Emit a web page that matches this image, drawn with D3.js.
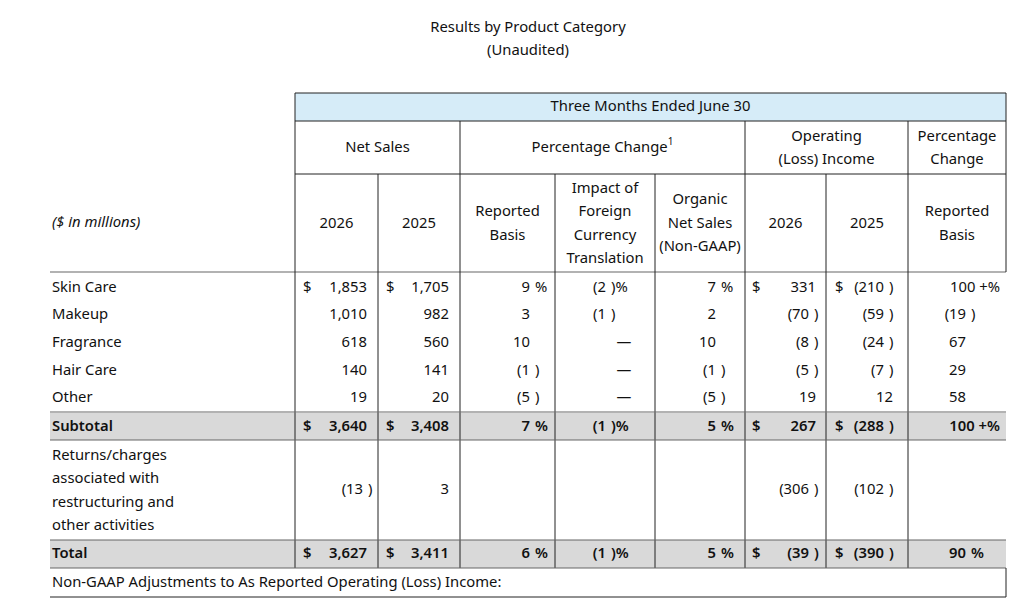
<!DOCTYPE html>
<html><head><meta charset="utf-8">
<script src="https://cdn.jsdelivr.net/npm/d3@7"></script>
<style>body{margin:0;background:#fff}text{font-family:"Noto Sans","Open Sans",sans-serif;font-size:14.8px;fill:#111}</style>
</head><body><svg id="c" width="1020" height="598"></svg>
<script>
const rowLabels = ["Skin Care", "Makeup", "Fragrance", "Hair Care", "Other"];
const netSales2026 = [1853, 1010, 618, 140, 19];
const netSales2025 = [1705, 982, 560, 141, 20];
const reportedPct = [9, 3, 10, -1, -5];
const fxImpact = [-2, -1, null, null, null];
const organicPct = [7, 2, 10, -1, -5];
const opIncome2026 = [331, -70, -8, -5, 19];
const opIncome2025 = [-210, -59, -24, -7, 12];
const opChange = ["100+", -19, 67, 29, 58];
const subtotal = [3640, 3408, 7, -1, 5, 267, -288, "100+"];
const returnsRow = [-13, 3, null, null, null, -306, -102, null];
const total = [3627, 3411, 6, -1, 5, -39, -390, 90];

const svg = d3.select("#c");
const fmt = d3.format(",");
const L = 50, R = 1006;
const colX = [295, 378, 460, 555, 655, 745, 826, 908, 1006];
// numeric columns: right edge of positive numbers, dollar sign, percent flag
const cols = [
  {E: 367, dollar: 303, pct: false, neg: -4},
  {E: 449, dollar: 386, pct: false, neg: -4},
  {E: 530, pct: true, neg: 0},
  {E: 606, pct: true, neg: 0, dash: 624},
  {E: 716, pct: true, neg: 0},
  {E: 816, dollar: 752, pct: false, neg: -7},
  {E: 893, dollar: 835, pct: false, neg: -9},
  {E: 966, pct: false, neg: 0}
];

const y = d3.scaleOrdinal()
  .domain(["Skin Care", "Makeup", "Fragrance", "Hair Care", "Other", "Subtotal", "Returns", "Total"])
  .range([288, 315, 343, 371, 398, 427, 490, 554]);

svg.append("rect").attr("x", colX[0]).attr("y", 93).attr("width", R - colX[0]).attr("height", 28).attr("fill", "#d6ecf8");
[[413, 440], [540, 568]].forEach(([a, b]) =>
  svg.append("rect").attr("x", L).attr("y", a).attr("width", R - L).attr("height", b - a).attr("fill", "#d9d9d9"));

const line = (x1, y1, x2, y2, w = 1, c = "#222") =>
  svg.append("line").attr("x1", x1).attr("y1", y1).attr("x2", x2).attr("y2", y2).attr("stroke", c).attr("stroke-width", w);

line(colX[0], 93, R, 93); line(colX[0], 121, R, 121); line(colX[0], 174, R, 174);
line(L, 272, R, 272, 1.2, "#666");
[colX[0], colX[2], colX[5], colX[7], R].forEach(x => line(x, 121, x, 174));
line(colX[0], 93, colX[0], 121); line(R, 93, R, 121);
colX.forEach(x => line(x, 174, x, 272));
colX.slice(0, 8).forEach(x => line(x, 272, x, 568));
line(L, 412, R, 412, 1.2, "#666"); line(L, 440, R, 440, 1.2, "#666");
line(L, 540, R, 540, 1.2, "#666"); line(L, 568, R, 568, 1.2, "#666");
line(L, 597, R, 597); line(R, 568, R, 597);

const txt = (x, yy, s, anchor = "middle", extra) => {
  const t = svg.append("text").attr("x", x).attr("y", yy).attr("text-anchor", anchor).attr("dominant-baseline", "middle").text(s);
  if (extra) extra(t);
  return t;
};

txt(528, 28, "Results by Product Category");
txt(528, 51, "(Unaudited)");

txt((colX[0] + R) / 2, 107, "Three Months Ended June 30");
txt((colX[0] + colX[2]) / 2, 148, "Net Sales");
txt((colX[2] + colX[5]) / 2, 148, "Percentage Change", "middle", t =>
  t.append("tspan").attr("dy", -6).attr("font-size", "10px").text("1"));
txt((colX[5] + colX[7]) / 2, 137, "Operating"); txt((colX[5] + colX[7]) / 2, 160, "(Loss) Income");
txt((colX[7] + R) / 2, 137, "Percentage"); txt((colX[7] + R) / 2, 160, "Change");
const sub = [["2026"], ["2025"], ["Reported", "Basis"], ["Impact of", "Foreign", "Currency", "Translation"],
  ["Organic", "Net Sales", "(Non-GAAP)"], ["2026"], ["2025"], ["Reported", "Basis"]];
sub.forEach((lines, i) => {
  const cx = (colX[i] + colX[i + 1]) / 2;
  lines.forEach((s, k) => txt(cx, 224 + (k - (lines.length - 1) / 2) * 23.5, s));
});
txt(52, 223, "($ in millions)", "start", t => t.attr("font-style", "italic"));

function cell(ci, v, yy, bold, showDollar, showPct = true) {
  const c = cols[ci];
  const b = t => { if (bold) t.attr("font-weight", 600); };
  if (v === null || v === undefined) {
    if (c.dash) txt(c.dash, yy, "—", "middle", b);
    return;
  }
  if (showDollar && c.dollar) txt(c.dollar, yy, "$", "start", b);
  if (v === "100+") { txt(1000, yy, "100 +%", "end", b); return; }
  const pct = c.pct && showPct;
  if (v < 0) {
    txt(c.E + c.neg, yy, "(" + fmt(-v), "end", b);
    txt(c.E + c.neg + 5, yy, ")" + (pct ? "%" : ""), "start", b);
  } else {
    txt(c.E, yy, fmt(v), "end", b);
    if (pct) txt(c.E + 5, yy, "%", "start", b);
  }
}
rowLabels.forEach((name, r) => {
  const yy = y(name);
  txt(52, yy, name, "start");
  const vals = [netSales2026[r], netSales2025[r], reportedPct[r], fxImpact[r], organicPct[r], opIncome2026[r], opIncome2025[r], opChange[r]];
  vals.forEach((v, ci) => cell(ci, v, yy, false, r === 0, r === 0));
});
txt(52, y("Subtotal"), "Subtotal", "start", t => t.attr("font-weight", 600));
subtotal.forEach((v, ci) => cell(ci, v, y("Subtotal"), true, true));
["Returns/charges", "associated with", "restructuring and", "other activities"].forEach((s, k) => txt(52, 456 + k * 23.5, s, "start"));
returnsRow.forEach((v, ci) => { if (v !== null) cell(ci, v, y("Returns"), false, false); });
txt(52, y("Total"), "Total", "start", t => t.attr("font-weight", 600));
total.forEach((v, ci) => {
  if (ci === 7) { txt(cols[7].E, y("Total"), "90", "end", t => t.attr("font-weight", 600)); txt(cols[7].E + 5, y("Total"), "%", "start", t => t.attr("font-weight", 600)); return; }
  cell(ci, v, y("Total"), true, true);
});
txt(52, 583, "Non-GAAP Adjustments to As Reported Operating (Loss) Income:", "start");
</script></body></html>
